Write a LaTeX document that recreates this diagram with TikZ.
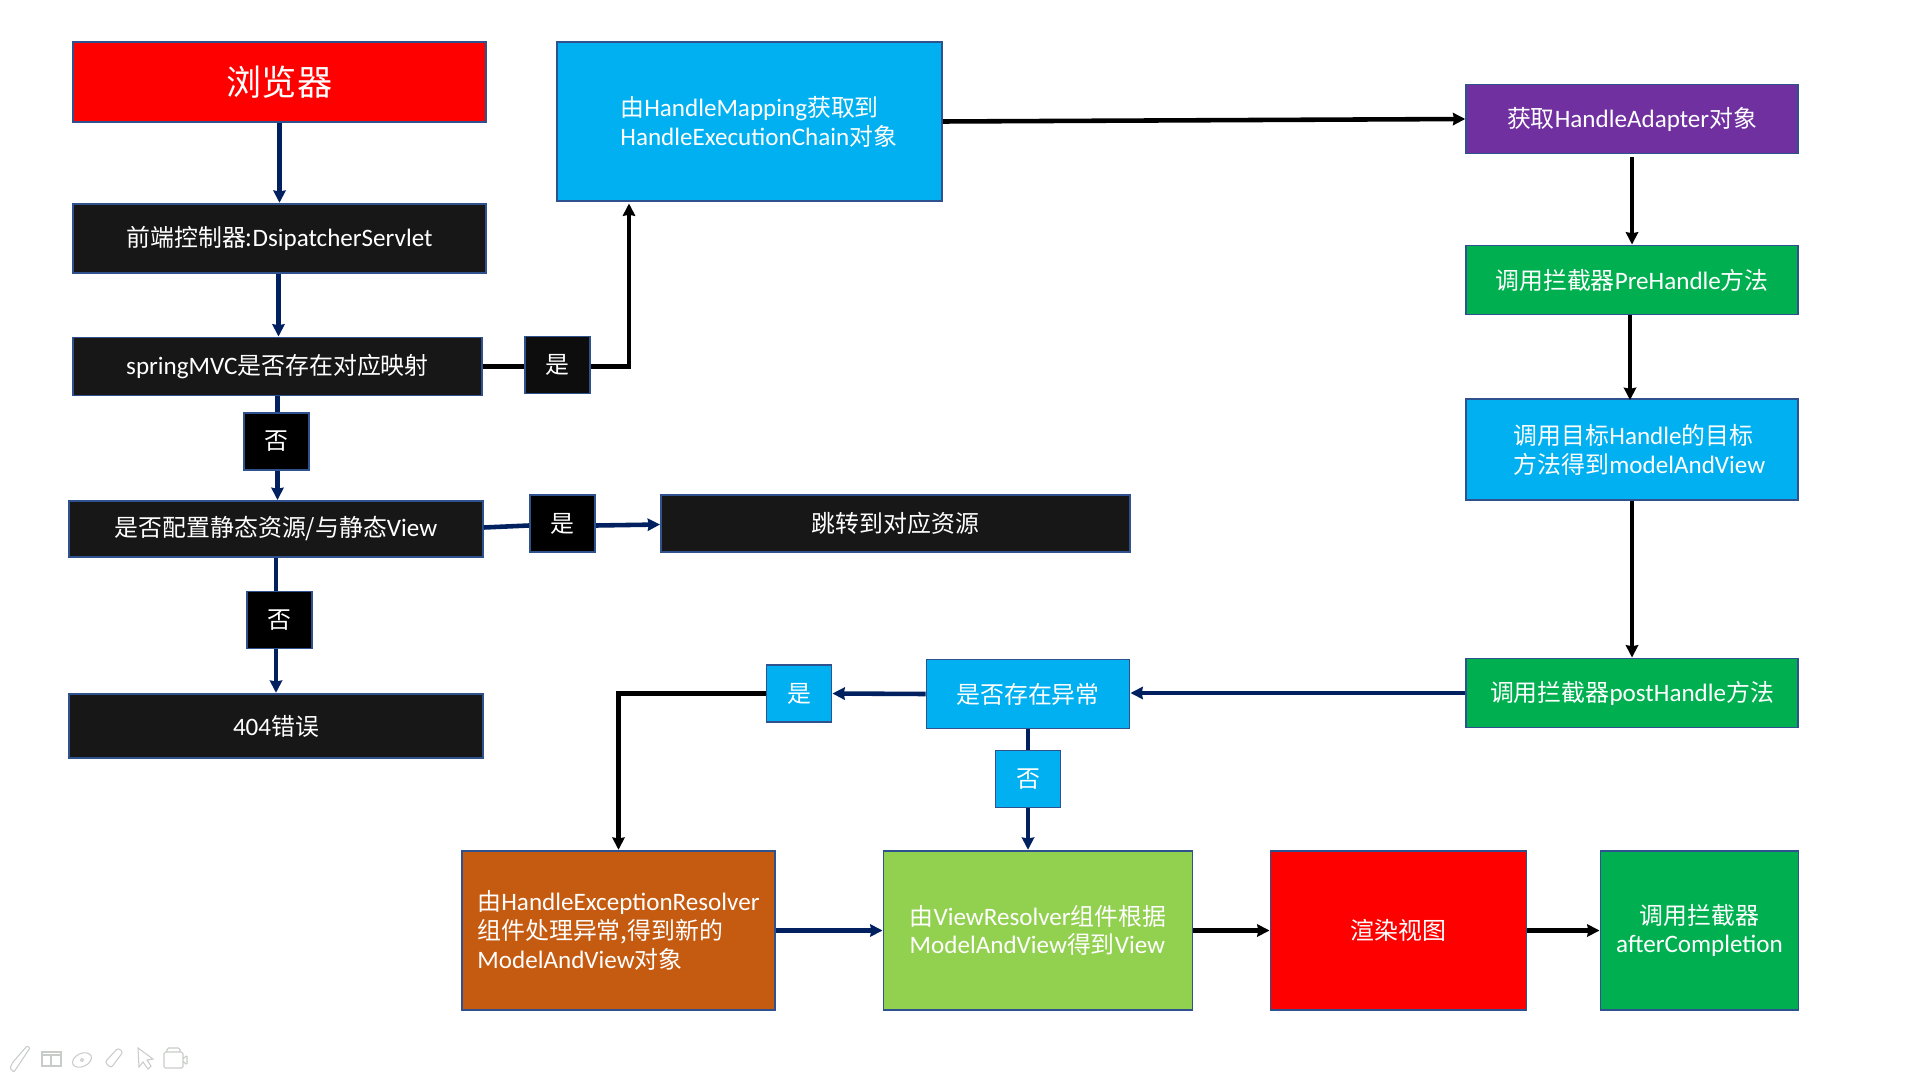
\documentclass[tikz,border=0pt]{standalone}
\usepackage{fontspec}
\setmainfont{Noto Sans CJK SC}
\newfontfamily\latinfont{Carlito}[Scale=1.05]
\newcommand{\en}[1]{{\latinfont #1}}
\usepackage{tikz}
\usetikzlibrary{arrows.meta}
\definecolor{edge}{HTML}{2F528F}
\definecolor{navy}{HTML}{002060}
\definecolor{dark}{HTML}{171717}
\definecolor{sky}{HTML}{00B0F0}
\definecolor{grass}{HTML}{00B050}
\definecolor{lime}{HTML}{92D050}
\definecolor{rust}{HTML}{C55A11}
\definecolor{plum}{HTML}{7030A0}
\definecolor{icon}{HTML}{C8CCC8}
\tikzstyle{arrow} = [line width=2.6pt,->,>={Stealth[length=7pt,width=7pt,inset=.6pt]}]
\tikzstyle{navyarrow} = [arrow,navy]
\tikzstyle{line} = [line width=2.6pt]
\tikzstyle{navyline} = [line,navy]

\begin{document}
\begin{tikzpicture}[box/.style 2 args={rectangle,draw=edge,line width=1.1pt,text=white,inner sep=0pt,
        align=left,font=\fontsize{13.6}{16.4}\selectfont,minimum width=#1cm,minimum height=#2cm},
    flag/.style={box={1.30}{1.14}}]
\useasboundingbox (0,0) rectangle (38.4,-21.6);

% left column
\node[box={8.26}{1.60},fill=red,font=\fontsize{20}{24}\selectfont] (browser) at (5.59,-1.64) {浏览器};
\node[box={8.26}{1.39},fill=dark] (dispatcher) at (5.59,-4.77) {前端控制器:\en{DsipatcherServlet}};
\node[box={8.19}{1.16},fill=dark] (spring) at (5.55,-7.33) {\en{springMVC}是否存在对应映射};
\node[flag,fill=black!95] (yes1) at (11.15,-7.30) {是};
\node[flag,fill=black] (no1) at (5.53,-8.83) {否};
\node[box={8.27}{1.12},fill=dark] (static) at (5.52,-10.58) {是否配置静态资源/与静态\en{View}};
\node[flag,fill=black] (yes2) at (11.25,-10.47) {是};
\node[box={9.38}{1.14},fill=dark] (jump) at (17.91,-10.47) {跳转到对应资源};
\node[flag,fill=black] (no2) at (5.59,-12.40) {否};
\node[box={8.27}{1.29},fill=dark] (notfound) at (5.52,-14.52) {\en{404}错误};

% top and right column
\node[box={7.70}{3.18},fill=sky] (mapping) at (14.99,-2.43) {\hspace*{.37cm}由\en{HandleMapping}获取到\\\hspace*{.37cm}\en{HandleExecutionChain}对象};
\coordinate (mappingin) at (12.58,-4.07);
\node[box={6.63}{1.38},fill=plum] (adapter) at (32.64,-2.38) {获取\en{HandleAdapter}对象};
\node[box={6.63}{1.38},fill=grass] (pre) at (32.64,-5.60) {调用拦截器\en{PreHandle}方法};
\node[box={6.63}{2.02},fill=sky] (target) at (32.64,-8.99) {\hspace*{.3cm}调用目标\en{Handle}的目标\\\hspace*{.3cm}方法得到\en{modelAndView}};
\node[box={6.63}{1.38},fill=grass] (post) at (32.64,-13.86) {调用拦截器\en{postHandle}方法};

% bottom rows
\node[box={4.06}{1.38},fill=sky] (exception) at (20.56,-13.88) {是否存在异常};
\node[flag,fill=sky] (yes3) at (15.98,-13.87) {是};
\node[flag,fill=sky] (no3) at (20.56,-15.58) {否};
\node[box={6.27}{3.19},fill=rust] (resolver) at (12.37,-18.61) {由\en{HandleExceptionResolver}\\组件处理异常,得到新的\\\en{ModelAndView}对象};
\node[box={6.18}{3.19},fill=lime] (view) at (20.76,-18.61) {由\en{ViewResolver}组件根据\\\en{ModelAndView}得到\en{View}};
\node[box={5.12}{3.19},fill=red] (render) at (27.97,-18.61) {渲染视图};
\node[box={3.96}{3.19},fill=grass,align=center] (after) at (33.99,-18.61) {调用拦截器\\\en{afterCompletion}};

\draw[navyarrow] (browser.south) -- (dispatcher.north);
\draw[navyarrow] ([xshift=-.02cm]dispatcher.south) -- ([xshift=.02cm]spring.north);
\draw[line] (spring.east) -- (spring.east -| yes1.west);
\draw[arrow] (spring.east -| yes1.east) -| (mappingin);
\draw[navyline] (spring.south) -- (spring.south |- no1.north);
\draw[navyarrow] (spring.south |- no1.south) -- (spring.south |- static.north);
\draw[navyline] ([yshift=.03cm]static.east) -- ([yshift=-.04cm]yes2.west);
\draw[navyarrow] ([yshift=-.04cm]yes2.east) -- ([yshift=-.02cm]jump.west);
\draw[navyline] (static.south) -- (static.south |- no2.north);
\draw[navyarrow] (static.south |- no2.south) -- (notfound.north);

\draw[arrow] (mapping.east) -- (adapter.west);
\draw[arrow] ([yshift=-.06cm]adapter.south) -- (pre.north);
\draw[arrow] ([xshift=-.04cm]pre.south) -- ([xshift=-.04cm,yshift=-.04cm]target.north);
\draw[arrow] (target.south) -- (post.north);
\draw[navyarrow] (post.west) -- (post.west -| exception.east);
\draw[navyarrow] (exception.west) -- (yes3.east);
\draw[arrow] (yes3.west) -| (resolver.north);
\draw[navyline] (exception.south) -- (no3.north);
\draw[navyarrow] (no3.south) -- (no3.south |- view.north);
\draw[navyarrow] (resolver.east) -- (view.west);
\draw[arrow] (view.east) -- (render.west);
\draw[arrow] (render.east) -- (after.west);

% toolbar icons
\draw[icon,line width=.6pt,rounded corners=.02cm] (.2,-21.36) -- (.28,-21.44) -- (.6,-20.96) -- (.54,-20.92) -- (.26,-21.24) -- cycle;
\draw[icon,line width=.6pt] (.84,-21.04) rectangle (1.22,-21.32) (.84,-21.1) -- (1.22,-21.1) (1.02,-21.1) -- (1.02,-21.32);
\draw[icon,line width=.6pt,rotate around={25:(1.64,-21.2)}] (1.64,-21.2) ellipse (.2 and .13) (1.64,-21.2) circle (.03);
\draw[icon,line width=.6pt,rounded corners=.05cm] (2.1,-21.24) -- (2.36,-20.96) -- (2.46,-21.04) -- (2.22,-21.36) -- cycle;
\draw[icon,line width=.6pt] (2.76,-20.96) -- (2.78,-21.34) -- (2.86,-21.24) -- (2.96,-21.38) -- (3.02,-21.32) -- (2.94,-21.2) -- (3.06,-21.18) -- cycle;
\draw[icon,line width=.6pt,rounded corners=.03cm] (3.28,-21.04) rectangle (3.66,-21.36) (3.34,-21.04) -- (3.34,-20.96) -- (3.6,-20.96) -- (3.6,-21.04) (3.66,-21.18) -- (3.74,-21.1) -- (3.74,-21.3) -- (3.66,-21.22);
\end{tikzpicture}
\end{document}
